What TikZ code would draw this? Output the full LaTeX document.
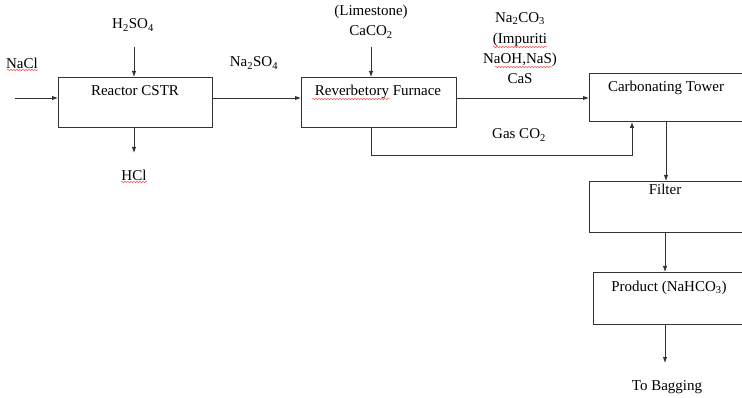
\documentclass[tikz,border=0pt]{standalone}
\usepackage{fontspec}
\setmainfont{Liberation Serif}
\usetikzlibrary{arrows.meta,calc,decorations.pathmorphing}

\begin{document}
\begin{tikzpicture}[x=1pt,y=-1pt,
  box/.style={draw=black!80, line width=0.9pt, rectangle, inner sep=0pt, anchor=north west},
  lbl/.style={inner sep=0pt, font=\fontsize{15}{17}\selectfont},
  arr/.style={draw=black!80, line width=0.9pt, -{Latex[length=6pt,width=4.5pt]}},
  squig/.style={draw=red!75, line width=0.5pt, decorate,
    decoration={snake, amplitude=0.6pt, segment length=3pt}}]

\useasboundingbox (0,0) rectangle (742,398);
\fill[white] (0,0) rectangle (742,398);
\clip (0,0) rectangle (742,398);

% process units
\node[box, minimum width=154, minimum height=50] (reactor) at (58,77) {};
\node[box, minimum width=155, minimum height=50] (furnace) at (301,77) {};
\node[box, minimum width=170, minimum height=48] (tower)   at (589,73) {};
\node[box, minimum width=170, minimum height=51] (filter)  at (589,181) {};
\node[box, minimum width=166, minimum height=52] (product) at (593,272) {};

% unit names
\node[lbl] (reactortxt) at (135,91) {Reactor CSTR};
\node[lbl] (furnacetxt) at (378,92) {Reverbetory Furnace};
\node[lbl] (towertxt)   at (666,88) {Carbonating Tower};
\node[lbl] (filtertxt)  at (665,189) {Filter};
\node[lbl] (producttxt) at (669,288) {Product (NaHCO\textsubscript{3})};

% stream labels
\node[lbl] (nacl)   at (22,63)  {NaCl};
\node[lbl] (h2so4)  at (133,25) {H\textsubscript{2}SO\textsubscript{4}};
\node[lbl] (hcl)    at (134,175) {HCl};
\node[lbl] (na2so4) at (254,63) {Na\textsubscript{2}SO\textsubscript{4}};
\node[lbl] (lime)   at (371,12) {(Limestone)};
\node[lbl] (caco)   at (371,32) {CaCO\textsubscript{2}};
\node[lbl] (soda)   at (520,19) {Na\textsubscript{2}CO\textsubscript{3}};
\node[lbl] (impur)  at (520,40) {(Impuriti};
\node[lbl] (naoh)   at (520,60) {NaOH,NaS)};
\node[lbl] (cas)    at (520,79) {CaS};
\node[lbl] (gasco)  at (519,135) {Gas CO\textsubscript{2}};
\node[lbl] (bag)    at (667,387) {To Bagging};

% free ends and bends of the streams
\coordinate (naclin) at (15,98);
\coordinate (h2in)   at (134,47);
\coordinate (hclout) at (134,153);
\coordinate (mainy)  at (0,98);
\coordinate (cain)   at (371,47);
\coordinate (gasturn1) at (371,155);
\coordinate (gasturn2) at (632,155);
\coordinate (towerx) at (666,0);
\coordinate (filterx) at (665,0);
\coordinate (bagout) at (665,363);

% streams
\draw[arr] (naclin) -- (naclin -| reactor.west);
\draw[arr] (h2in) -- (h2in |- reactor.north);
\draw[arr] (mainy -| reactor.east) -- (mainy -| furnace.west);
\draw[arr] (hclout |- reactor.south) -- (hclout);
\draw[arr] (cain) -- (cain |- furnace.north);
\draw[arr] (mainy -| furnace.east) -- (mainy -| tower.west);
\draw[arr] (gasturn1 |- furnace.south) -- (gasturn1) -- (gasturn2) -- (gasturn2 |- tower.south);
\draw[arr] (towerx |- tower.south) -- (towerx |- filter.north);
\draw[arr] (filterx |- filter.south) -- (filterx |- product.north);
\draw[arr] (filterx |- product.south) -- (bagout);

% spell-check marks under words
\draw[squig] (7,70) -- (38,70);
\draw[squig] (121,182) -- (147,182);
\draw[squig] (312,99) -- (390,99);
\draw[squig] (493,47) -- (547,47);
\draw[squig] (495,67) -- (552,67);
\end{tikzpicture}
\end{document}
